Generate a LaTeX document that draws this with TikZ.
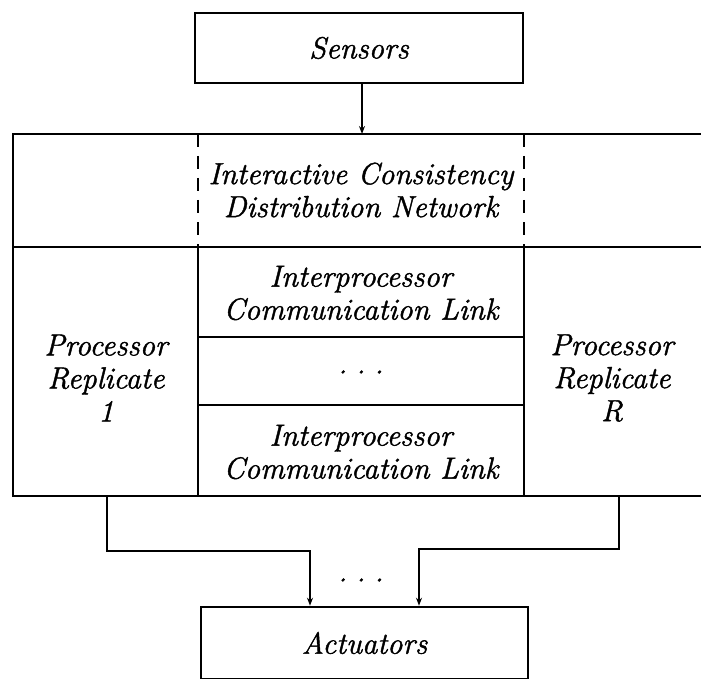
\documentclass[tikz,border=0pt]{standalone}
\usepackage{fontspec}
\usetikzlibrary{arrows.meta}
% heavier italic for the labels
\newfontfamily\lblfont[FakeBold=1.4]{Latin Modern Roman}
\begin{document}
\begin{tikzpicture}[x=1pt,y=-1pt,
  frame/.style={line width=2.6pt},
  inner/.style={line width=1.7pt},
  dashline/.style={line width=1.7pt, dash pattern=on 13pt off 9pt},
  label/.style={inner sep=0pt, align=center,
    font=\lblfont\fontsize{30.5}{33}\selectfont\itshape},
  box/.style={draw, line width=2.6pt, minimum width=#1, inner sep=0pt},
  feed/.style={line width=1.9pt, -{Stealth[length=8pt,width=6pt]}}
]
\useasboundingbox (0,0) rectangle (701,679);

% Sensors and Actuators
\node[box=328pt, minimum height=70pt, label] (sens) at (359,48) {Sensors};
\node[box=327pt, minimum height=72pt, label] (act) at (364.5,643) {Actuators};

% outer frame (open on the right)
\coordinate (tl) at (13,134);
\coordinate (bl) at (13,496);
\draw[frame] (701,134) -- (tl) -- (bl) -- (701,496);
\draw[inner] (13,247) -- (701,247);

% middle column
\draw[dashline] (198,134) -- (198,247);
\draw[dashline] (524,134) -- (524,247);
\draw[inner] (198,247) -- (198,496);
\draw[inner] (524,247) -- (524,496);
\draw[inner] (198,337) -- (524,337);
\draw[inner] (198,405) -- (524,405);

% cell texts
\node[label] (icdn) at (361,190) {Interactive Consistency\\Distribution Network};
\node[label] (link1) at (361,293) {Interprocessor\\Communication Link};
\node[label] (dots1) at (361,372) {.\hspace{9pt}.\hspace{9pt}.};
\node[label] (link2) at (361,452) {Interprocessor\\Communication Link};
\node[label] (p1) at (106,378) {Processor\\Replicate\\1};
\node[label] (pR) at (612,378) {Processor\\Replicate\\R};

% named attachment points on the frame
\coordinate (top) at (362,134);
\coordinate (p1out) at (107,496);
\coordinate (pRout) at (619,496);

% connectors
\draw[feed] (sens.south -| top) -- (top);
\draw[feed] (p1out) -- (107,551) -- (310,551) -- (310,551 |- act.north);
\draw[feed] (pRout) -- (619,549) -- (419,549) -- (419,549 |- act.north);
\node[label] (dots2) at (361,580) {.\hspace{9pt}.\hspace{9pt}.};
\end{tikzpicture}
\end{document}
